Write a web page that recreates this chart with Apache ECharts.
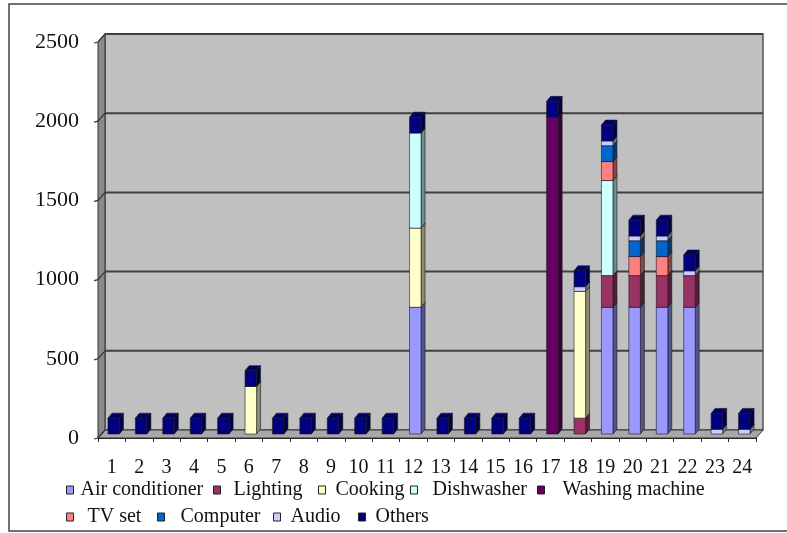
<!DOCTYPE html>
<html>
<head>
<meta charset="utf-8">
<script src="https://cdn.jsdelivr.net/npm/echarts@6/dist/echarts.min.js"></script>
<style>
html, body { margin: 0; padding: 0; background: #fff; }
#chart { width: 787px; height: 533px; }
</style>
</head>
<body>
<div id="chart"></div>
<script>
// Hourly household load by appliance (W), hours 1..24
const hours = ['1','2','3','4','5','6','7','8','9','10','11','12','13','14','15','16','17','18','19','20','21','22','23','24'];
const airConditioner = [0,0,0,0,0,0,0,0,0,0,0,800,0,0,0,0,0,0,800,800,800,800,0,0];
const lighting       = [0,0,0,0,0,0,0,0,0,0,0,0,0,0,0,0,0,100,200,200,200,200,0,0];
const cooking        = [0,0,0,0,0,300,0,0,0,0,0,500,0,0,0,0,0,800,0,0,0,0,0,0];
const dishwasher     = [0,0,0,0,0,0,0,0,0,0,0,600,0,0,0,0,0,0,600,0,0,0,0,0];
const washingMachine = [0,0,0,0,0,0,0,0,0,0,0,0,0,0,0,0,2000,0,0,0,0,0,0,0];
const tvSet          = [0,0,0,0,0,0,0,0,0,0,0,0,0,0,0,0,0,0,120,120,120,0,0,0];
const computer       = [0,0,0,0,0,0,0,0,0,0,0,0,0,0,0,0,0,0,100,100,100,0,0,0];
const audio          = [0,0,0,0,0,0,0,0,0,0,0,0,0,0,0,0,0,30,30,30,30,30,30,30];
const others         = [100,100,100,100,100,100,100,100,100,100,100,100,100,100,100,100,100,100,100,100,100,100,100,100];
const yTicks = [0, 500, 1000, 1500, 2000, 2500];

const seriesNames = ['Air conditioner','Lighting','Cooking','Dishwasher','Washing machine','TV set','Computer','Audio','Others'];
const stackValues = [airConditioner, lighting, cooking, dishwasher, washingMachine, tvSet, computer, audio, others];
const seriesColors = ['#9999FF','#993366','#FFFFCC','#CCFFFF','#660066','#FF8080','#0066CC','#CCCCFF','#000080'];

// depth of the chart box (back wall offset) and of each column
const WALL_DX = 7, WALL_DY = 8;
const BAR_SX = 2, BAR_SY = -4;
const BAR_DX = 4, BAR_DY = 5;

function shade(hex, f) {
  const n = parseInt(hex.slice(1), 16);
  const r = Math.round(((n >> 16) & 255) * f);
  const g = Math.round(((n >> 8) & 255) * f);
  const b = Math.round((n & 255) * f);
  return 'rgb(' + r + ',' + g + ',' + b + ')';
}

// walls, floor and gridlines of the 3-D box
function renderBox(params, api) {
  const catW = api.size([1, 0])[0];
  const x0 = api.coord([0, 0])[0] - catW / 2;
  const x1 = api.coord([hours.length - 1, 0])[0] + catW / 2;
  const yv = v => api.coord([0, v])[1];
  const yMin = yv(yTicks[0]);
  const yMax = yv(yTicks[yTicks.length - 1]);
  const children = [];
  children.push({ type: 'rect',
    shape: { x: x0 + WALL_DX, y: yMax - WALL_DY, width: x1 - x0, height: yMin - yMax },
    style: { fill: '#c0c0c0', stroke: '#555', lineWidth: 1.5 } });
  children.push({ type: 'polygon',
    shape: { points: [[x0, yMax], [x0 + WALL_DX, yMax - WALL_DY], [x0 + WALL_DX, yMin - WALL_DY], [x0, yMin]] },
    style: { fill: '#8a8a8a', stroke: '#333', lineWidth: 1 } });
  children.push({ type: 'polygon',
    shape: { points: [[x0, yMin], [x0 + WALL_DX, yMin - WALL_DY], [x1 + WALL_DX, yMin - WALL_DY], [x1, yMin]] },
    style: { fill: '#a8a8a8', stroke: '#333', lineWidth: 1 } });
  yTicks.forEach(v => {
    const y = yv(v);
    if (v !== yTicks[0]) {
      children.push({ type: 'line',
        shape: { x1: x0 + WALL_DX, y1: y - WALL_DY, x2: x1 + WALL_DX, y2: y - WALL_DY },
        style: { stroke: '#404040', lineWidth: 2 } });
    }
    children.push({ type: 'polyline',
      shape: { points: [[x0 - 4, y + 1], [x0, y], [x0 + WALL_DX, y - WALL_DY]] },
      style: { stroke: '#333', lineWidth: 1.2, fill: null } });
  });
  return { type: 'group', children: children };
}

function barRenderer(k) {
  return function (params, api) {
    const i = api.value(0);
    const v = api.value(1);
    if (!v) return null;
    let base = 0;
    for (let j = 0; j < k; j++) base += stackValues[j][i];
    const catW = api.size([1, 0])[0];
    const w = catW * 0.42;
    const c = api.coord([i, 0])[0] + BAR_SX;
    const yB = api.coord([i, base])[1] + BAR_SY;
    const yT = api.coord([i, base + v])[1] + BAR_SY;
    const xl = c - w / 2, xr = c + w / 2;
    const color = seriesColors[k];
    const edge = { stroke: '#1a1a1a', lineWidth: 0.6 };
    return { type: 'group', children: [
      { type: 'polygon',
        shape: { points: [[xr, yB], [xr + BAR_DX, yB - BAR_DY], [xr + BAR_DX, yT - BAR_DY], [xr, yT]] },
        style: Object.assign({ fill: shade(color, 0.55) }, edge) },
      { type: 'polygon',
        shape: { points: [[xl, yT], [xl + BAR_DX, yT - BAR_DY], [xr + BAR_DX, yT - BAR_DY], [xr, yT]] },
        style: Object.assign({ fill: shade(color, 0.85) }, edge) },
      { type: 'rect',
        shape: { x: xl, y: yT, width: w, height: yB - yT },
        style: Object.assign({ fill: color }, edge) }
    ] };
  };
}

const serif = 'Liberation Serif';

// legend key placement: [icon left, text left, row top]
const legendPlaces = [
  [66, 80, 480], [213, 233, 480], [318, 335, 480], [410, 432, 480], [537, 562, 480],
  [66, 87, 507], [157, 180, 507], [273, 290, 507], [358, 375, 507]
];

const legends = seriesNames.map((name, k) => ({
  data: [name],
  left: legendPlaces[k][0],
  top: legendPlaces[k][2],
  padding: 0,
  icon: 'rect',
  itemWidth: 7,
  itemHeight: 8,
  selectedMode: false,
  itemStyle: { borderColor: '#222', borderWidth: 1 },
  textStyle: {
    fontFamily: serif, fontSize: 20, color: '#111',
    padding: [0, 0, 8, legendPlaces[k][1] - legendPlaces[k][0] - 12]
  }
}));

const series = [{
  type: 'custom',
  name: 'box',
  silent: true,
  z: 1,
  renderItem: renderBox,
  data: [[0, 0]]
}];
stackValues.forEach((arr, k) => {
  series.push({
    type: 'custom',
    name: seriesNames[k],
    z: 2,
    itemStyle: { color: seriesColors[k], borderColor: '#222', borderWidth: 1 },
    renderItem: barRenderer(k),
    data: arr.map((v, i) => [i, v])
  });
});

const chart = echarts.init(document.getElementById('chart'), null, { renderer: 'canvas' });
chart.setOption({
  animation: false,
  backgroundColor: '#fff',
  graphic: [{
    type: 'rect', z: 100, silent: true,
    shape: { x: 9, y: 4, width: 800, height: 527 },
    style: { fill: null, stroke: '#444', lineWidth: 1.5 }
  }],
  legend: legends,
  grid: { left: 98, right: 31, top: 42, bottom: 95, containLabel: false },
  xAxis: {
    type: 'category',
    data: hours,
    boundaryGap: true,
    axisLine: { show: true, lineStyle: { color: '#222', width: 1 } },
    axisTick: { show: true, length: 4, lineStyle: { color: '#222' } },
    axisLabel: { interval: 0, margin: 20, fontFamily: serif, fontSize: 20, color: '#111' },
    splitLine: { show: false }
  },
  yAxis: {
    type: 'value',
    min: 0, max: 2500, interval: 500,
    axisLine: { show: true, lineStyle: { color: '#222', width: 1 } },
    axisTick: { show: false },
    axisLabel: { margin: 19, fontFamily: serif, fontSize: 22, color: '#111', formatter: v => String(v) },
    splitLine: { show: false }
  },
  series: series
});
</script>
</body>
</html>
